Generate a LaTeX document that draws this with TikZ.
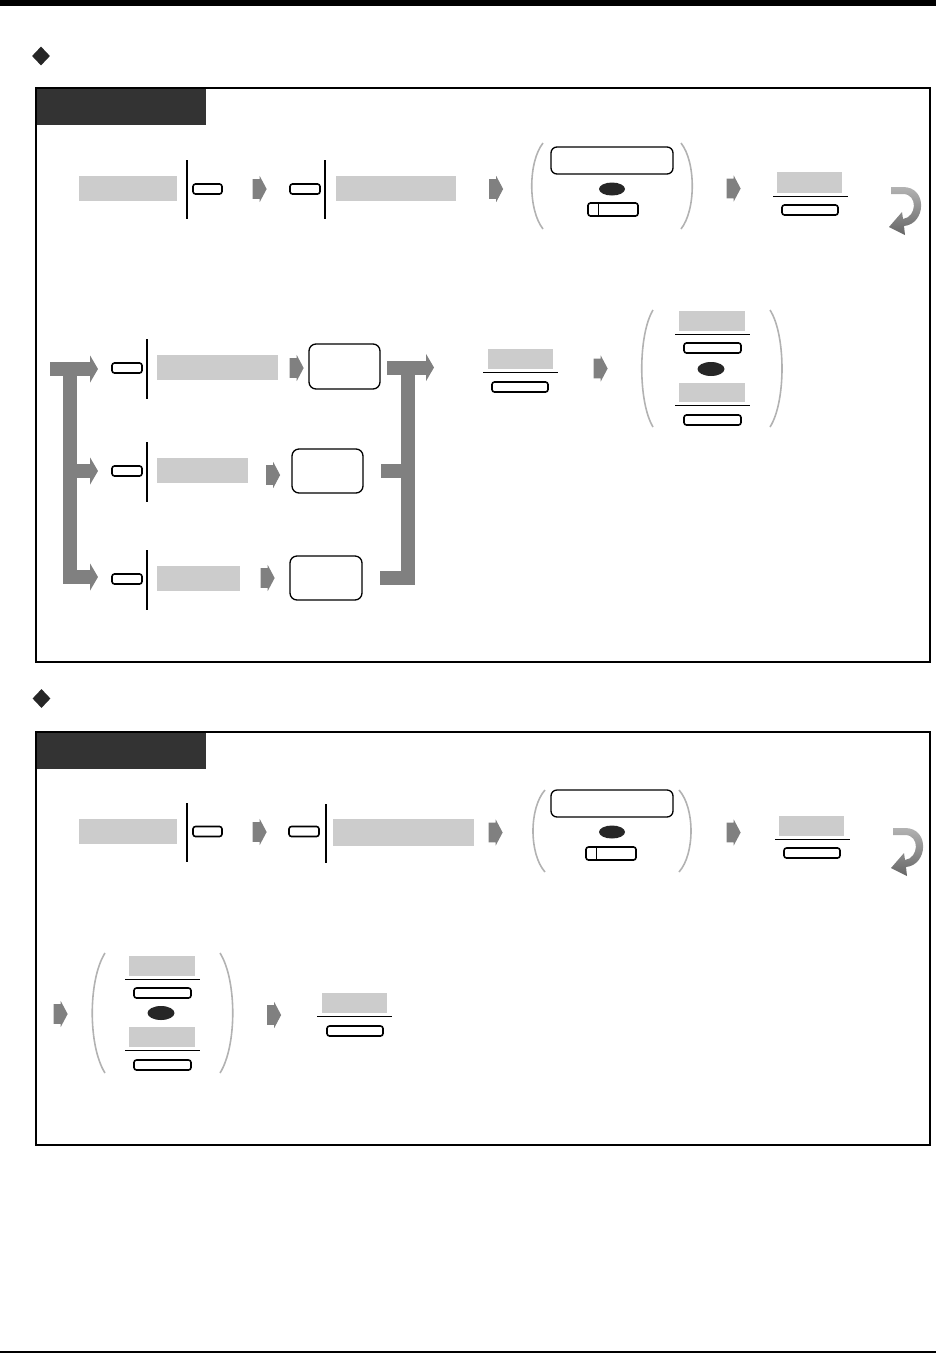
\documentclass[tikz,border=0pt]{standalone}
\usetikzlibrary{arrows.meta,shapes.geometric,shapes.arrows}

\begin{document}
\begin{tikzpicture}[x=1pt, y=-1pt,
  panel/.style={draw, line width=2pt},
  tabfill/.style={fill=black!80},
  field/.style={fill=black!20, inner sep=0pt},
  btn/.style={draw, fill=white, line width=1.6pt, rounded corners=2.5pt, inner sep=0pt, minimum height=10pt},
  disp/.style={draw, line width=1.3pt, rounded corners=6pt, inner sep=0pt},
  blackdot/.style={ellipse, fill=black!85, inner sep=0pt, minimum width=26pt, minimum height=13pt},
  stepar/.style={single arrow, fill=black!50, inner xsep=0pt, inner ysep=9.75pt, minimum height=14pt, minimum width=26pt, single arrow head extend=3.25pt, single arrow tip angle=124},
  sep/.style={line width=1.5pt},
  fracline/.style={line width=0.9pt},
  paren/.style={draw=black!30, line width=1.6pt},
  brk/.style={draw=black!50, line width=14pt},
  brkarr/.style={brk, -{Triangle[length=8pt, width=27pt]}},
  sectmark/.style={diamond, fill=black!85, inner sep=0pt, minimum width=18pt, minimum height=19pt},
  back/.style={top color=black!30, bottom color=black!60}
]
\useasboundingbox (0,0) rectangle (936,1353);
\fill (0,0) rectangle (936,6);
\fill (0,1351) rectangle (936,1353);

% first panel
\node[sectmark] (m1) at (41,56) {};
\draw[panel] (36,88) rectangle (930,662);
\fill[tabfill] (37,89) rectangle (206,125);

\node[field, minimum width=98pt, minimum height=25pt] (g1) at (128,188.5) {};
\draw[sep] (187,160) -- (187,219);
\node[btn, minimum width=29pt] (k1) at (207.5,189) {};
\node[stepar] (a1) at (257,189) {};
\node[btn, minimum width=30pt] (k2) at (305,189) {};
\draw[sep] (325,160) -- (325,219);
\node[field, minimum width=120pt, minimum height=25pt] (g2) at (396,188.5) {};
\node[stepar] (a2) at (493.5,189) {};
\draw[paren] (543,143) .. controls (528,162) and (528,210) .. (543,229);
\draw[paren] (681,143) .. controls (696,162) and (696,210) .. (681,229);
\node[disp, minimum width=122pt, minimum height=27pt] (d1) at (612,160.5) {};
\node[blackdot] (h1) at (612,189) {};
\node[btn, minimum width=50pt, minimum height=13pt] (dk1) at (613,209.5) {};
\draw[line width=1.3pt] ([xshift=11pt]dk1.north west) -- ([xshift=11pt]dk1.south west);
\node[stepar] (a3) at (731,188.5) {};
\node[field, minimum width=65pt, minimum height=21pt] (g3) at (809.5,182.5) {};
\draw[fracline] (773,196) -- (848,196);
\node[btn, minimum width=56pt] (k3) at (810,210) {};
\shade[back] (891,187) -- (903,187) .. controls (928,187) and (926,224) .. (904,226) -- (905,235) -- (889,227) -- (902,212) -- (903,219) .. controls (917,217) and (918,194) .. (903,194) -- (891,194) -- cycle;

\draw[brkarr] (50,369) -- (98,369);
\draw[brk] (70,362) -- (70,577) -- (90,577);
\draw[brkarr] (70,577) -- (98,577);
\draw[brkarr] (70,471) -- (98,471);
\node[btn, minimum width=30pt] (ka) at (127,368) {};
\node[btn, minimum width=30pt] (kb) at (127,471) {};
\node[btn, minimum width=30pt] (kc) at (127,579) {};
\draw[sep] (147,339) -- (147,399);
\draw[sep] (147,442) -- (147,502);
\draw[sep] (147,550) -- (147,610);
\node[field, minimum width=121pt, minimum height=25pt] (ga) at (217.5,367.5) {};
\node[field, minimum width=91pt, minimum height=25pt] (gb) at (202.5,470.5) {};
\node[field, minimum width=83pt, minimum height=25pt] (gc) at (198.5,578.5) {};
\node[stepar] (aa) at (294,368) {};
\node[stepar] (ab) at (270.5,475) {};
\node[stepar] (ac) at (265,578) {};
\node[disp, minimum width=71pt, minimum height=45pt, rounded corners=7pt] (da) at (344.5,366.5) {};
\node[disp, minimum width=71pt, minimum height=44pt, rounded corners=7pt] (db) at (327.5,471) {};
\node[disp, minimum width=72pt, minimum height=44pt, rounded corners=7pt] (dc) at (326,578) {};
\draw[brk] (380,578) -- (408,578) -- (408,361);
\draw[brk] (381,471) -- (408,471);
\draw[brkarr] (387,367.5) -- (434,367.5);

\node[field, minimum width=65pt, minimum height=20pt] (g4) at (520.5,359) {};
\draw[fracline] (483,372) -- (558,372);
\node[btn, minimum width=56pt] (k4) at (520,387) {};
\node[stepar] (a4) at (598,368.5) {};
\draw[paren] (653,310) .. controls (638,335) and (638,402) .. (653,427);
\draw[paren] (770,310) .. controls (786,335) and (786,402) .. (770,427);
\node[field, minimum width=66pt, minimum height=20pt] (g5) at (712,321) {};
\draw[fracline] (675,334) -- (750,334);
\node[btn, minimum width=57pt] (k5) at (712.5,348) {};
\node[blackdot, minimum width=27pt, minimum height=14pt] (h2) at (711,369) {};
\node[field, minimum width=66pt, minimum height=19pt] (g6) at (712,392.5) {};
\draw[fracline] (675,405) -- (750,405);
\node[btn, minimum width=57pt] (k6) at (712.5,420) {};

% second panel
\node[sectmark] (m2) at (41.5,698.5) {};
\draw[panel] (36,732) rectangle (930,1145);
\fill[tabfill] (37,733) rectangle (206,769);

\node[field, minimum width=98pt, minimum height=25pt] (p1) at (128,831.5) {};
\draw[sep] (187,803) -- (187,862);
\node[btn, minimum width=29pt] (q1) at (207.5,831.5) {};
\node[stepar] (b1) at (257,832) {};
\node[btn, minimum width=30pt] (q2) at (304,831.5) {};
\draw[sep] (326,804) -- (326,863);
\node[field, minimum width=141pt, minimum height=27pt] (p2) at (403.5,832.5) {};
\node[stepar] (b2) at (493,832.5) {};
\draw[paren] (545,790) .. controls (529,808) and (529,854) .. (545,872);
\draw[paren] (679,790) .. controls (695,808) and (695,854) .. (679,872);
\node[disp, minimum width=122pt, minimum height=27pt] (e1) at (612,803.5) {};
\node[blackdot] (h3) at (612,832) {};
\node[btn, minimum width=50pt, minimum height=13pt] (dk2) at (611,853.5) {};
\draw[line width=1.3pt] ([xshift=11pt]dk2.north west) -- ([xshift=11pt]dk2.south west);
\node[stepar] (b3) at (731,832.5) {};
\node[field, minimum width=65pt, minimum height=20pt] (p3) at (811.5,826) {};
\draw[fracline] (775,839) -- (850,839);
\node[btn, minimum width=56pt] (q3) at (812,853) {};
\begin{scope}[shift={(2,641)}]
\shade[back] (891,187) -- (903,187) .. controls (928,187) and (926,224) .. (904,226) -- (905,235) -- (889,227) -- (902,212) -- (903,219) .. controls (917,217) and (918,194) .. (903,194) -- (891,194) -- cycle;
\end{scope}

\node[stepar] (b4) at (58,1014) {};
\draw[paren] (105,953) .. controls (88,980) and (88,1046) .. (105,1073);
\draw[paren] (220,953) .. controls (237,980) and (237,1046) .. (220,1073);
\node[field, minimum width=66pt, minimum height=20pt] (p4) at (162,966) {};
\draw[fracline] (125,979) -- (200,979);
\node[btn, minimum width=57pt] (q4) at (162.5,993) {};
\node[blackdot, minimum width=27pt, minimum height=14pt] (h4) at (161,1013) {};
\node[field, minimum width=66pt, minimum height=20pt] (p5) at (162,1037) {};
\draw[fracline] (125,1050) -- (200,1050);
\node[btn, minimum width=57pt] (q5) at (162.5,1065) {};
\node[stepar] (b5) at (271.5,1015) {};
\node[field, minimum width=65pt, minimum height=20pt] (p6) at (354.5,1003) {};
\draw[fracline] (317,1016) -- (392,1016);
\node[btn, minimum width=56pt] (q6) at (355,1031) {};
\end{tikzpicture}
\end{document}
